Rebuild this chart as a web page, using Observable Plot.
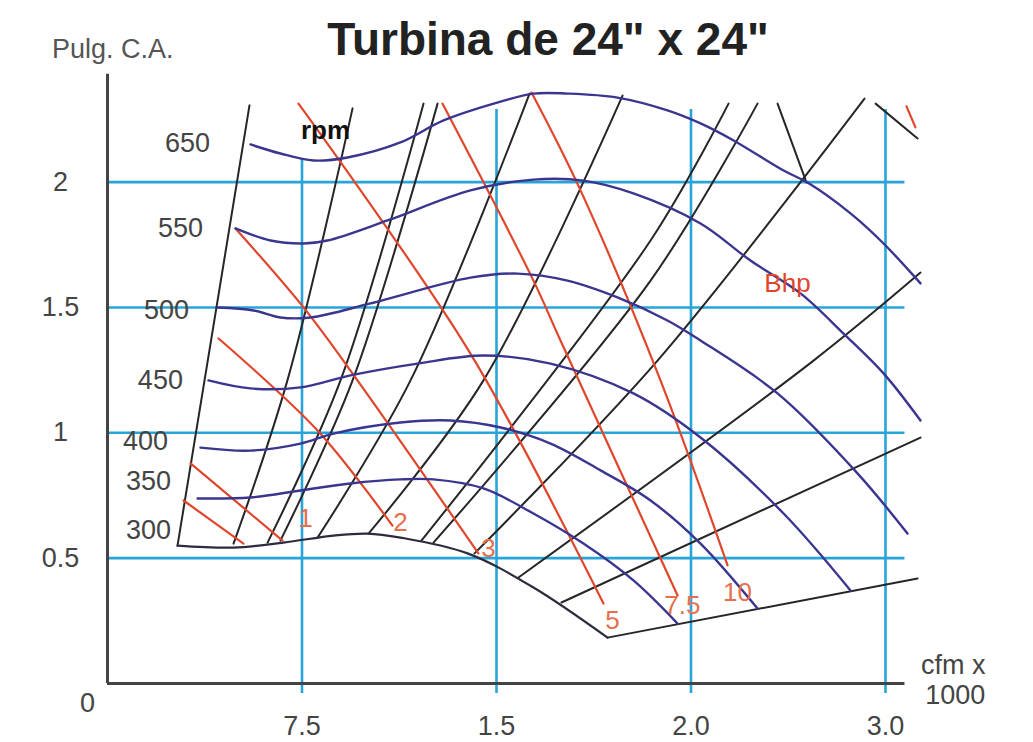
<!DOCTYPE html>
<html>
<head>
<meta charset="utf-8">
<script src="https://cdn.jsdelivr.net/npm/d3@7"></script>
<script src="https://cdn.jsdelivr.net/npm/@observablehq/plot@0.6"></script>
<style>
  body { margin: 0; background: #fff; font-family: "Liberation Sans", Arial, sans-serif; }
  #head { position: relative; width: 1033px; height: 70px; }
  #title { position: absolute; left: 548px; top: 16px; transform: translateX(-50%); font-size: 46px; line-height: 1; font-weight: bold; color: #222; white-space: nowrap; margin: 0; }
  #ylab { position: absolute; left: 52px; top: 36px; font-size: 27px; line-height: 1; color: #555; white-space: nowrap; }
</style>
</head>
<body>
<div id="head">
  <h1 id="title">Turbina de 24" x 24"</h1>
  <div id="ylab">Pulg. C.A.</div>
</div>
<div id="chart"></div>
<script>
// ---- axes ----
const xTicks = [1, 2, 3, 4];
const xTickLabels = ["7.5", "1.5", "2.0", "3.0"];
const yTicks = [0.5, 1, 1.5, 2];
const yTickLabels = ["0.5", "1", "1.5", "2"];
const gridTop = [2.09, 2.29, 2.29, 2.29];

// ---- rpm curves [cfm unit, pulg C.A.] ----
const rpm300 = [[0.360,0.550],[0.648,0.542],[0.905,0.562],[1.162,0.590],[1.337,0.598],[1.506,0.582],[1.851,0.519],[2.190,0.383],[2.571,0.183]];
const rpm350 = [[0.463,0.738],[0.735,0.742],[0.992,0.770],[1.249,0.798],[1.506,0.814],[1.676,0.814],[1.933,0.778],[2.190,0.678],[2.447,0.558],[2.704,0.411],[2.931,0.239]];
const rpm400 = [[0.478,0.941],[0.735,0.929],[0.992,0.957],[1.162,0.997],[1.506,1.041],[1.764,1.049],[2.021,1.021],[2.278,0.957],[2.535,0.850],[2.792,0.730],[3.049,0.558],[3.342,0.299]];
const rpm450 = [[0.519,1.209],[0.735,1.177],[0.992,1.181],[1.249,1.229],[1.594,1.276],[1.933,1.308],[2.278,1.276],[2.704,1.157],[3.049,0.981],[3.476,0.678],[3.820,0.371]];
const rpm500 = [[0.566,1.500],[0.751,1.488],[0.889,1.460],[1.044,1.460],[1.352,1.516],[1.866,1.619],[2.108,1.635],[2.365,1.607],[2.622,1.540],[2.879,1.448],[3.049,1.368],[3.445,1.157],[3.856,0.838],[4.113,0.598]];
const rpm550 = [[0.658,1.815],[0.838,1.767],[1.008,1.755],[1.131,1.767],[1.440,1.847],[1.866,1.967],[2.190,2.010],[2.447,2.006],[2.704,1.955],[3.049,1.835],[3.306,1.687],[3.563,1.556],[3.784,1.396],[3.990,1.237],[4.180,1.049]];
const rpm650 = [[0.735,2.150],[0.889,2.114],[1.059,2.086],[1.234,2.098],[1.506,2.158],[1.728,2.246],[2.021,2.321],[2.190,2.353],[2.365,2.353],[2.622,2.337],[2.879,2.286],[3.049,2.234],[3.219,2.166],[3.476,2.046],[3.599,1.998],[3.820,1.875],[3.990,1.755],[4.180,1.596]];
const rpmLabels = ["300", "350", "400", "450", "500", "550", "650"];
const rpmLabelX = [0.211, 0.211, 0.195, 0.272, 0.303, 0.375, 0.411];
const rpmLabelY = [0.610, 0.806, 0.965, 1.209, 1.488, 1.815, 2.154];

// ---- Bhp lines ----
const bhp05 = [[0.391,0.730],[0.699,0.558]];
const bhp1 = [[0.427,0.878],[0.900,0.570]];
const bhp2 = [[0.571,1.376],[1.080,1.009],[1.465,0.630]];
const bhp3 = [[0.658,1.815],[1.008,1.500],[1.285,1.209],[1.907,0.519]];
const bhp5 = [[0.982,2.313],[1.866,1.316],[2.550,0.319]];
const bhp75 = [[1.722,2.313],[2.190,1.607],[2.329,1.368],[2.931,0.351]];
const bhp10 = [[2.180,2.357],[2.432,1.967],[2.843,1.209],[3.188,0.471]];
const bhpNext = [[4.108,2.302],[4.154,2.218]];
const bhpLabels = ["1", "2", "3", "5", "7.5", "10"];
const bhpLabelX = [1.018, 1.506, 1.959, 2.596, 2.956, 3.239];
const bhpLabelY = [0.658, 0.642, 0.538, 0.251, 0.311, 0.363];

// ---- system / boundary lines ----
const sys0 = [[0.360,0.550],[0.730,2.306]];
const sys1 = [[0.648,0.558],[0.925,1.209],[1.260,2.294]];
const sys2 = [[0.823,0.562],[1.198,1.209],[1.625,2.313]];
const sys3 = [[0.889,0.570],[1.260,1.209],[1.697,2.313]];
const sys4 = [[1.080,0.582],[1.558,1.209],[2.170,2.353]];
const sys5 = [[1.342,0.598],[1.933,1.209],[2.648,2.345]];
const sys6 = [[1.614,0.570],[2.792,1.767],[3.193,2.313]];
const sys7 = [[1.676,0.562],[2.792,1.607],[3.342,2.313]];
const sys8 = [[1.887,0.519],[2.828,1.288],[3.892,2.333]];
const sys9 = [[2.113,0.423],[3.630,1.288],[4.180,1.639]];
const sys10 = [[2.334,0.323],[4.180,0.981]];
const freeAir = [[2.571,0.183],[4.165,0.419]];
const edge1 = [[3.445,2.313],[3.594,1.998]];
const edge2 = [[3.949,2.313],[4.165,2.174]];

const navy = "#3a3690", blue = "#29a4da", red = "#e0462b", ink = "#262626";
const ln = (pts, stroke, w) => Plot.line(pts, {x: d => d[0], y: d => d[1], stroke, strokeWidth: w, curve: "catmull-rom"});

const sysLines = [sys0, sys1, sys2, sys3, sys4, sys5, sys6, sys7, sys8, sys9, sys10, freeAir, edge1, edge2];
const bhpLines = [bhp05, bhp1, bhp2, bhp3, bhp5, bhp75, bhp10, bhpNext];
const rpmLines = [rpm350, rpm400, rpm450, rpm500, rpm550, rpm650];

const chart = Plot.plot({
  width: 1033,
  height: 672,
  marginLeft: 107,
  marginRight: 109.1,
  marginTop: 11.3,
  marginBottom: 59,
  x: {domain: [0, 4.2]},
  y: {domain: [0, 2.4]},
  style: {fontFamily: "Liberation Sans, Arial, sans-serif", fontSize: "27px", background: "#fff", color: "#444", overflow: "visible"},
  marks: [
    Plot.ruleY(yTicks, {x1: 0, x2: 4.1, stroke: blue, strokeWidth: 2.6}),
    Plot.ruleX(xTicks, {y1: -0.04, y2: (d, i) => gridTop[i], stroke: blue, strokeWidth: 2.6}),
    ...sysLines.map(p => ln(p, ink, 2)),
    ...bhpLines.map(p => ln(p, red, 2.2)),
    ln(rpm300, "#2c2c3e", 2.2),
    ...rpmLines.map(p => ln(p, navy, 2.4)),
    Plot.ruleX([0], {y1: 0, y2: 2.43, stroke: "#444", strokeWidth: 3}),
    Plot.ruleY([0], {x1: 0, x2: 4.1, stroke: "#444", strokeWidth: 3}),
    Plot.axisX(xTicks, {tickSize: 0, tickPadding: 32, tickFormat: d => xTickLabels[xTicks.indexOf(d)], fontSize: 27, fill: "#444"}),
    Plot.axisY(yTicks, {tickSize: 0, tickPadding: 47, textAnchor: "middle", tickFormat: d => yTickLabels[yTicks.indexOf(d)], fontSize: 27, fill: "#444"}),
    Plot.text(["0"], {x: 0, y: 0, dx: -20, dy: 20, fontSize: 27, fill: "#444"}),
    Plot.text(["cfm x\n1000"], {frameAnchor: "bottom-right", dx: 61, dy: 20, lineHeight: 1.11, fontSize: 27, fill: "#444"}),
    Plot.text(rpmLabels, {x: (d, i) => rpmLabelX[i], y: (d, i) => rpmLabelY[i], text: d => d, fontSize: 27, fill: "#444"}),
    Plot.text(bhpLabels, {x: (d, i) => bhpLabelX[i], y: (d, i) => bhpLabelY[i], text: d => d, fontSize: 26, fill: "#e5704d"}),
    Plot.text(["rpm"], {x: 1.121, y: 2.206, fontSize: 26, fill: "#111", fontWeight: 600}),
    Plot.text(["Bhp"], {x: 3.496, y: 1.596, fontSize: 26, fill: red})
  ]
});
document.getElementById("chart").appendChild(chart);
</script>
</body>
</html>
